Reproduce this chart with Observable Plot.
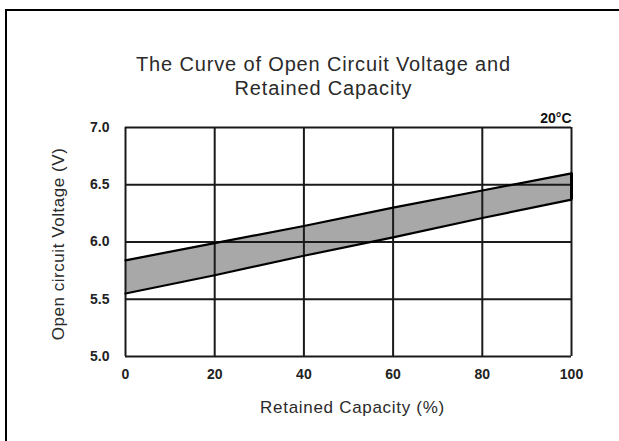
<!DOCTYPE html>
<html>
<head>
<meta charset="utf-8">
<script src="https://cdn.jsdelivr.net/npm/d3@7"></script>
<script src="https://cdn.jsdelivr.net/npm/@observablehq/plot@0.6"></script>
<style>
  html, body { margin: 0; padding: 0; background: #fff; }
  #wrap { position: relative; width: 619px; height: 441px; overflow: hidden; }
  #border { position: absolute; left: 5px; top: 9px; width: 700px; height: 500px;
            border-top: 2px solid #000; border-left: 2px solid #000; }
  #chart { position: absolute; left: 0; top: 0; }
  .title-txt text { letter-spacing: 0.85px; }
  .xlab-txt text { letter-spacing: 0.7px; }
  .ylab-txt text { letter-spacing: 0.55px; }
</style>
</head>
<body>
<div id="wrap"><div id="border"></div><div id="chart"></div></div>
<script>
const capacity = [0, 20, 40, 60, 80, 100];
const upperVoltage = [5.84, 5.99, 6.14, 6.30, 6.45, 6.60];
const lowerVoltage = [5.55, 5.71, 5.88, 6.04, 6.21, 6.37];
const xTicks = [0, 20, 40, 60, 80, 100];
const yTicks = [5.0, 5.5, 6.0, 6.5, 7.0];
const titleLines = ["The Curve of Open Circuit Voltage and", "Retained Capacity"];
const xLabel = "Retained Capacity (%)";
const yLabel = "Open circuit Voltage (V)";
const tempLabel = "20°C";

const data = capacity.map((c, i) => ({c, hi: upperVoltage[i], lo: lowerVoltage[i]}));
const last = data[data.length - 1];

const chart = Plot.plot({
  width: 619,
  height: 441,
  marginLeft: 125,
  marginRight: 48,
  marginTop: 127,
  marginBottom: 85,
  style: {fontFamily: "'Liberation Sans', Arial, sans-serif", background: "transparent", overflow: "visible"},
  x: {domain: [0, 100]},
  y: {domain: [5, 7]},
  marks: [
    Plot.areaY(data, {x: "c", y1: "lo", y2: "hi", fill: "#a8a8a8"}),
    Plot.ruleX(xTicks, {stroke: "#1a1a1a", strokeWidth: 2}),
    Plot.ruleY(yTicks, {stroke: "#1a1a1a", strokeWidth: 2}),
    Plot.line(data, {x: "c", y: "hi", stroke: "#000", strokeWidth: 2.2}),
    Plot.line(data, {x: "c", y: "lo", stroke: "#000", strokeWidth: 2.2}),
    Plot.ruleX([last], {x: "c", y1: "lo", y2: "hi", stroke: "#000", strokeWidth: 3}),
    Plot.axisX({ticks: xTicks, tickSize: 0, tickPadding: 13, fontSize: 14, fontWeight: "bold", fill: "#222", label: null}),
    Plot.axisY({ticks: yTicks, tickSize: 0, tickPadding: 16, fontSize: 14, fontWeight: "bold", fill: "#222", tickFormat: d3.format(".1f"), label: null}),
    Plot.text([titleLines[0]], {frameAnchor: "top", dx: -25, dy: -71, fontSize: 20, fill: "#2a2a2a", className: "title-txt"}),
    Plot.text([titleLines[1]], {frameAnchor: "top", dx: -25, dy: -47, fontSize: 20, fill: "#2a2a2a", className: "title-txt"}),
    Plot.text([xLabel], {frameAnchor: "bottom", dx: 4, dy: 56, fontSize: 17, fill: "#2a2a2a", className: "xlab-txt"}),
    Plot.text([yLabel], {frameAnchor: "left", textAnchor: "middle", dx: -67, dy: 2, rotate: -90, fontSize: 17, fill: "#2a2a2a", className: "ylab-txt"}),
    Plot.text([tempLabel], {frameAnchor: "top-right", textAnchor: "end", dy: -14.5, fontSize: 14, fontWeight: "bold", fill: "#111"})
  ]
});
document.getElementById("chart").appendChild(chart);
</script>
</body>
</html>
